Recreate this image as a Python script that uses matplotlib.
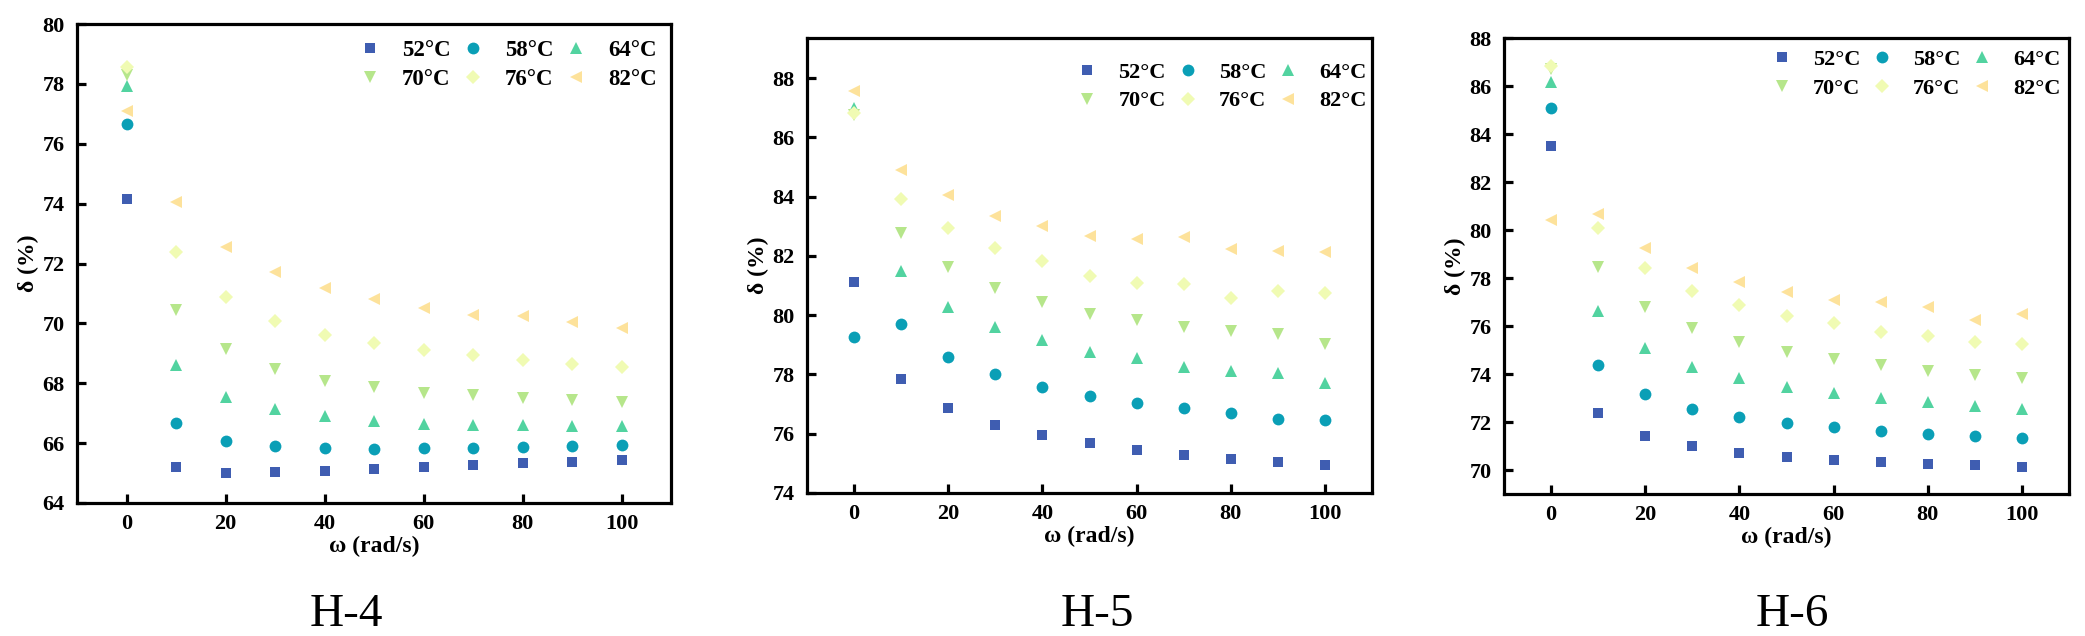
import matplotlib
matplotlib.use("Agg")
import matplotlib.pyplot as plt
import numpy as np

# ---- data ----
omega = [0, 10, 20, 30, 40, 50, 60, 70, 80, 90, 100]
temps = ["52°C", "58°C", "64°C", "70°C", "76°C", "82°C"]

h4_52 = [74.14, 65.20, 65.00, 65.03, 65.08, 65.14, 65.20, 65.26, 65.33, 65.38, 65.42]
h4_58 = [76.67, 66.67, 66.08, 65.90, 65.83, 65.81, 65.83, 65.84, 65.87, 65.91, 65.94]
h4_64 = [77.94, 68.62, 67.55, 67.13, 66.90, 66.75, 66.65, 66.61, 66.59, 66.56, 66.56]
h4_70 = [78.30, 70.46, 69.13, 68.47, 68.09, 67.86, 67.68, 67.60, 67.51, 67.44, 67.37]
h4_76 = [78.55, 72.39, 70.89, 70.09, 69.62, 69.33, 69.10, 68.94, 68.76, 68.63, 68.53]
h4_82 = [77.08, 74.04, 72.54, 71.72, 71.19, 70.80, 70.50, 70.27, 70.25, 70.05, 69.85]

h5_52 = [81.11, 77.86, 76.86, 76.31, 75.97, 75.68, 75.46, 75.28, 75.15, 75.06, 74.94]
h5_58 = [79.27, 79.71, 78.59, 78.00, 77.57, 77.26, 77.03, 76.86, 76.69, 76.51, 76.45]
h5_64 = [86.99, 81.49, 80.27, 79.59, 79.15, 78.75, 78.57, 78.25, 78.10, 78.05, 77.72]
h5_70 = [86.74, 82.78, 81.62, 80.93, 80.44, 80.04, 79.84, 79.61, 79.47, 79.35, 79.01]
h5_76 = [86.83, 83.92, 82.93, 82.25, 81.82, 81.33, 81.10, 81.06, 80.59, 80.83, 80.75]
h5_82 = [87.57, 84.88, 84.04, 83.34, 83.02, 82.68, 82.58, 82.62, 82.24, 82.18, 82.13]

h6_52 = [83.51, 72.39, 71.43, 70.99, 70.72, 70.54, 70.42, 70.32, 70.24, 70.19, 70.12]
h6_58 = [85.07, 74.39, 73.15, 72.54, 72.19, 71.95, 71.78, 71.61, 71.50, 71.40, 71.33]
h6_64 = [86.15, 76.63, 75.10, 74.31, 73.82, 73.47, 73.21, 72.98, 72.83, 72.67, 72.54]
h6_70 = [86.70, 78.46, 76.78, 75.90, 75.33, 74.93, 74.61, 74.36, 74.12, 73.95, 73.84]
h6_76 = [86.82, 80.09, 78.43, 77.47, 76.86, 76.41, 76.11, 75.77, 75.60, 75.33, 75.25]
h6_82 = [80.40, 80.65, 79.27, 78.43, 77.84, 77.43, 77.08, 76.98, 76.78, 76.27, 76.48]

panel_titles = ["H-4", "H-5", "H-6"]
x_ticks = [0, 20, 40, 60, 80, 100]
y_ticks_h4 = [64, 66, 68, 70, 72, 74, 76, 78, 80]
y_ticks_h5 = [74, 76, 78, 80, 82, 84, 86, 88]
y_ticks_h6 = [70, 72, 74, 76, 78, 80, 82, 84, 86, 88]

# ---- style ----
colors = ["#3f5db1", "#0a9fb6", "#52d3a0", "#b6e68b", "#f0fbb3", "#fde29b"]
markers = ["s", "o", "^", "v", "D", "<"]
msizes = [7.5, 8.5, 8.5, 8.5, 7.5, 8.5]
serif = ["Liberation Serif", "DejaVu Serif"]

W, H = 2085, 636
fig = plt.figure(figsize=(W / 100, H / 100), dpi=100)

def px_rect(left, top, right, bottom):
    return [left / W, 1 - bottom / H, (right - left) / W, (bottom - top) / H]

panels = [
    dict(rect=px_rect(77, 24, 671, 503), data=[h4_52, h4_58, h4_64, h4_70, h4_76, h4_82],
         ylim=(64, 80), yticks=y_ticks_h4, title_x=346, leg=(0.976, 0.967), lfs=16.5),
    dict(rect=px_rect(807, 38, 1372, 493), data=[h5_52, h5_58, h5_64, h5_70, h5_76, h5_82],
         ylim=(74, 89.35), yticks=y_ticks_h5, title_x=1097, leg=(0.99, 0.947), lfs=16.0),
    dict(rect=px_rect(1504, 38, 2069, 494), data=[h6_52, h6_58, h6_64, h6_70, h6_76, h6_82],
         ylim=(69, 88), yticks=y_ticks_h6, title_x=1792, leg=(0.985, 0.975), lfs=16.0),
]

for p, title in zip(panels, panel_titles):
    ax = fig.add_axes(p["rect"])
    handles = []
    for series, c, m, ms, lab in zip(p["data"], colors, markers, msizes, temps):
        h, = ax.plot(omega, series, linestyle="none", marker=m, markersize=ms,
                     color=c, markeredgewidth=0, label=lab)
        handles.append(h)
    ax.set_xlim(-10, 110)
    ax.set_ylim(*p["ylim"])
    ax.set_xticks(x_ticks)
    ax.set_yticks(p["yticks"])
    for s in ax.spines.values():
        s.set_linewidth(2.3)
    ax.tick_params(direction="in", length=6.5, width=2.3, top=False, right=False,
                   labelsize=16)
    ax.tick_params(axis="y", pad=9)
    ax.tick_params(axis="x", pad=8)
    for lbl in ax.get_xticklabels() + ax.get_yticklabels():
        lbl.set_fontfamily(serif)
        lbl.set_fontweight("bold")
    ax.set_xlabel("ω (rad/s)", fontsize=17, fontweight="bold", family=serif, labelpad=1)
    ax.set_ylabel("δ (%)", fontsize=17, fontweight="bold", family=serif, labelpad=2)
    order = [0, 3, 1, 4, 2, 5]
    ax.legend([handles[i] for i in order], [temps[i] for i in order], ncol=3,
              loc="upper right", bbox_to_anchor=p["leg"], frameon=False,
              prop=dict(family=serif, weight="bold", size=p["lfs"]),
              handlelength=1.0, handletextpad=0.9, columnspacing=0.48,
              labelspacing=0.37, borderpad=0.0, borderaxespad=0.0)
    fig.text(p["title_x"] / W, 1 - 626 / H, title, ha="center", va="baseline",
             fontsize=34, family=serif)

fig.savefig("out.png", dpi=100)
